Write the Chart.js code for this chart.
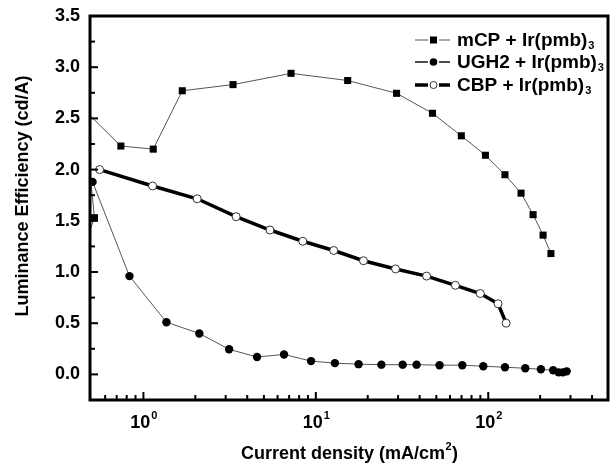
<!DOCTYPE html>
<html>
<head>
<meta charset="utf-8">
<script src="https://cdn.jsdelivr.net/npm/chart.js@4.4.0/dist/chart.umd.min.js"></script>
<style>
  body { margin: 0; background: #fff; }
  #graph-container { width: 613px; height: 469px; }
</style>
</head>
<body>
<div id="graph-container"><canvas id="graphiqueLum"></canvas></div>
<script>
// valeurs
var mcpX = [0.47, 0.52, 0.45, 0.74, 1.14, 1.68, 3.31, 7.18, 15.3, 29.4, 47.5, 69.8, 96.3, 125, 155, 182, 208, 231];
var mcpY = [1.32, 1.53, 2.59, 2.23, 2.20, 2.77, 2.83, 2.94, 2.87, 2.745, 2.55, 2.33, 2.14, 1.95, 1.77, 1.56, 1.36, 1.18];

var ughX = [0.507, 0.83, 1.36, 2.11, 3.14, 4.56, 6.54, 9.38, 12.9, 17.7, 24.0, 31.9, 38.4, 52.2, 70.7, 93.6, 125, 164, 202, 238, 256, 271, 285];
var ughY = [1.88, 0.96, 0.51, 0.40, 0.245, 0.17, 0.195, 0.13, 0.11, 0.10, 0.095, 0.095, 0.095, 0.09, 0.09, 0.08, 0.07, 0.06, 0.05, 0.04, 0.02, 0.02, 0.03];

var cbpX = [0.557, 1.13, 2.05, 3.45, 5.42, 8.4, 12.7, 18.9, 29.0, 43.9, 64.5, 89.9, 114, 127];
var cbpY = [2.0, 1.84, 1.715, 1.54, 1.41, 1.30, 1.21, 1.11, 1.03, 0.96, 0.87, 0.79, 0.69, 0.50];

var seriesNames = ['mCP + Ir(pmb)', 'UGH2 + Ir(pmb)', 'CBP + Ir(pmb)'];

var yTicks = [0, 0.5, 1.0, 1.5, 2.0, 2.5, 3.0, 3.5];
var yTickLabels = ['0.0', '0.5', '1.0', '1.5', '2.0', '2.5', '3.0', '3.5'];
var yMinor = [0.25, 0.75, 1.25, 1.75, 2.25, 2.75, 3.25];
var xTicks = [1, 10, 100];
var xTickExp = ['0', '1', '2'];
var xMinor = [0.6, 0.7, 0.8, 0.9, 2, 3, 4, 5, 6, 7, 8, 9, 20, 30, 40, 50, 60, 70, 80, 90, 200, 300, 400];

var police = '"Liberation Sans", Arial, sans-serif';

function points(xs, ys) {
    return xs.map(function(x, i) { return { x: x, y: ys[i] }; });
}

function trait(ctx, x1, y1, x2, y2) {
    ctx.beginPath();
    ctx.moveTo(x1, y1);
    ctx.lineTo(x2, y2);
    ctx.stroke();
}

// cadre, graduations vers l'interieur, textes et legende
var cadre = {
    id: 'cadre',
    afterDraw: function(chart) {
        var ctx = chart.ctx, a = chart.chartArea;
        var sx = chart.scales.x, sy = chart.scales.y;
        ctx.save();
        ctx.strokeStyle = '#000';
        ctx.fillStyle = '#000';
        ctx.lineWidth = 2;
        yTicks.forEach(function(v) { var p = sy.getPixelForValue(v); trait(ctx, a.left, p, a.left + 8, p); });
        yMinor.forEach(function(v) { var p = sy.getPixelForValue(v); trait(ctx, a.left, p, a.left + 5, p); });
        xTicks.forEach(function(v) { var p = sx.getPixelForValue(v); trait(ctx, p, a.bottom, p, a.bottom - 8); });
        xMinor.forEach(function(v) { var p = sx.getPixelForValue(v); trait(ctx, p, a.bottom, p, a.bottom - 5); });
        ctx.lineWidth = 3;
        ctx.strokeRect(a.left, a.top, a.right - a.left, a.bottom - a.top);

        // etiquettes y
        ctx.font = 'bold 18px ' + police;
        ctx.textAlign = 'right';
        ctx.textBaseline = 'middle';
        yTicks.forEach(function(v, i) { ctx.fillText(yTickLabels[i], a.left - 10, sy.getPixelForValue(v)); });

        // etiquettes x : 10 puissance n
        ctx.textBaseline = 'alphabetic';
        ctx.textAlign = 'left';
        xTicks.forEach(function(v, i) {
            var p = sx.getPixelForValue(v);
            ctx.font = 'bold 18px ' + police;
            var w = ctx.measureText('10').width;
            ctx.font = 'bold 11px ' + police;
            var we = ctx.measureText(xTickExp[i]).width;
            var x0 = p - (w + we) / 2;
            ctx.font = 'bold 18px ' + police;
            ctx.fillText('10', x0, 428);
            ctx.font = 'bold 11px ' + police;
            ctx.fillText(xTickExp[i], x0 + w + 1, 419);
        });

        // titres des axes
        ctx.font = 'bold 18px ' + police;
        var t1 = 'Current density (mA/cm', t2 = ')';
        var w1 = ctx.measureText(t1).width, w2 = ctx.measureText(t2).width;
        ctx.font = 'bold 11px ' + police;
        var ws = ctx.measureText('2').width;
        var xs0 = (a.left + a.right) / 2 - (w1 + ws + w2) / 2;
        ctx.font = 'bold 18px ' + police;
        ctx.fillText(t1, xs0, 459);
        ctx.fillText(t2, xs0 + w1 + ws + 1, 459);
        ctx.font = 'bold 11px ' + police;
        ctx.fillText('2', xs0 + w1 + 0.5, 450);

        ctx.save();
        ctx.translate(28, 196);
        ctx.rotate(-Math.PI / 2);
        ctx.font = 'bold 18px ' + police;
        ctx.textAlign = 'center';
        ctx.fillText('Luminance Efficiency (cd/A)', 0, 0);
        ctx.restore();

        // legende
        var rangs = [40, 62, 85];
        var styles = [
            { lw: 1, col: '#555' },
            { lw: 1.6, col: '#222' },
            { lw: 3.5, col: '#000' }
        ];
        rangs.forEach(function(y, i) {
            ctx.strokeStyle = styles[i].col;
            ctx.lineWidth = styles[i].lw;
            trait(ctx, 415, y, 428, y);
            trait(ctx, 439, y, 450, y);
            ctx.lineWidth = 1;
            if (i === 0) {
                ctx.fillStyle = '#000';
                ctx.fillRect(430, y - 3.5, 7, 7);
            } else if (i === 1) {
                ctx.fillStyle = '#000';
                ctx.beginPath(); ctx.arc(433.5, y, 3.8, 0, Math.PI * 2); ctx.fill();
            } else {
                ctx.fillStyle = '#fff';
                ctx.strokeStyle = '#333';
                ctx.beginPath(); ctx.arc(433.5, y, 3.5, 0, Math.PI * 2); ctx.fill(); ctx.stroke();
            }
            ctx.fillStyle = '#000';
            ctx.font = 'bold 19px ' + police;
            ctx.fillText(seriesNames[i], 457, y + 6);
            var w = ctx.measureText(seriesNames[i]).width;
            ctx.font = 'bold 11px ' + police;
            ctx.fillText('3', 457 + w + 1, y + 9);
        });
        ctx.restore();
    }
};

var ctxLum = document.getElementById('graphiqueLum').getContext('2d');

var graphiqueLum = new Chart(ctxLum, {
    type: 'scatter',
    data: {
        datasets: [{
            label: seriesNames[0],
            data: points(mcpX, mcpY),
            showLine: true,
            borderColor: '#555',
            borderWidth: 1,
            pointStyle: 'rect',
            pointRadius: 5,
            pointBackgroundColor: '#000',
            pointBorderColor: '#000',
            pointBorderWidth: 0
        }, {
            label: seriesNames[1],
            data: points(ughX, ughY),
            showLine: true,
            borderColor: '#555',
            borderWidth: 1,
            pointStyle: 'circle',
            pointRadius: 4.2,
            pointBackgroundColor: '#000',
            pointBorderColor: '#000',
            pointBorderWidth: 0
        }, {
            label: seriesNames[2],
            data: points(cbpX, cbpY),
            showLine: true,
            borderColor: '#000',
            borderWidth: 3.5,
            pointStyle: 'circle',
            pointRadius: 4,
            pointBackgroundColor: '#fff',
            pointBorderColor: '#333',
            pointBorderWidth: 1
        }]
    },
    options: {
        responsive: true,
        maintainAspectRatio: false,
        animation: false,
        events: [],
        layout: { padding: { left: 0, right: 4, top: 16, bottom: 0 } },
        plugins: { legend: { display: false }, tooltip: { enabled: false } },
        scales: {
            x: {
                type: 'logarithmic',
                min: 0.49,
                max: 495,
                grid: { display: false },
                border: { display: false },
                ticks: { display: false },
                afterFit: function(s) { s.height = 69; }
            },
            y: {
                type: 'linear',
                min: -0.25,
                max: 3.5,
                grid: { display: false },
                border: { display: false },
                ticks: { display: false },
                afterFit: function(s) { s.width = 90; }
            }
        }
    },
    plugins: [cadre]
});
</script>
</body>
</html>
